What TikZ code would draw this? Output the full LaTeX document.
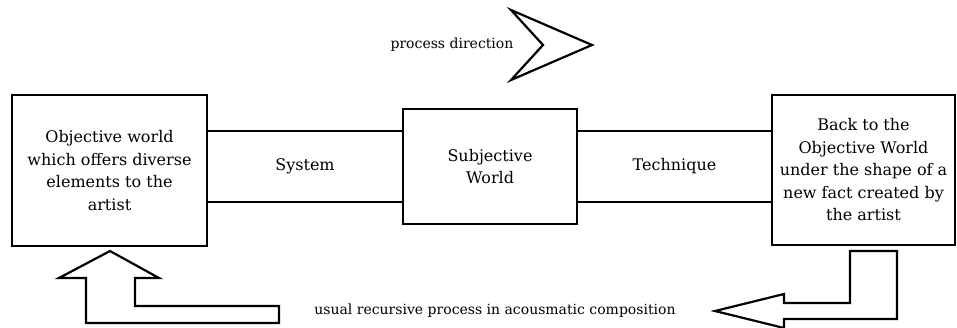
\documentclass[tikz,border=0pt]{standalone}
\usepackage{fontspec}
\setmainfont{DejaVu Serif}
\begin{document}
\begin{tikzpicture}[x=1pt,y=-1pt,
  box/.style={draw=black,line width=2.2pt,fill=white,align=center,inner sep=0pt,
    font=\fontsize{16}{22.5}\selectfont},
  link/.style={draw=black,line width=2.2pt,fill=white,align=center,inner sep=0pt,
    font=\fontsize{16}{22.5}\selectfont},
  small/.style={inner sep=0pt,font=\fontsize{14}{16}\selectfont},
  blockarrow/.style={draw=black,line width=2.2pt,fill=white,line join=miter}]
\useasboundingbox (0,0) rectangle (957,327);
\node[link,minimum width=196pt,minimum height=71pt] (sys) at (305,166.5) {System};
\node[link,minimum width=195pt,minimum height=71pt] (tech) at (674.5,166.5) {Technique};
\node[box,minimum width=195pt,minimum height=151pt] (obj) at (109.5,170.5)
  {Objective world\\which offers diverse\\elements to the\\artist};
\node[box,minimum width=174pt,minimum height=115pt] (subj) at (490,166.5)
  {Subjective\\World};
\node[box,minimum width=183pt,minimum height=150pt] (back) at (863.5,170)
  {Back to the\\Objective World\\under the shape of a\\new fact created by\\the artist};
\node[small] (dir) at (452,45) {process direction};
\draw[blockarrow] (511,10) -- (592,45) -- (511,80) -- (543,45) -- cycle;
\node[small] (rec) at (495,311) {usual recursive process in acousmatic composition};
\draw[blockarrow] (86,323) -- (279,323) -- (279,306) -- (135,306) -- (135,278)
  -- (159,278) -- (110,251) -- (59,278) -- (86,278) -- cycle;
\draw[blockarrow] (850,251) -- (897,251) -- (897,319) -- (784,319) -- (784,328)
  -- (715,311) -- (784,294) -- (784,303) -- (850,303) -- cycle;
\end{tikzpicture}
\end{document}
